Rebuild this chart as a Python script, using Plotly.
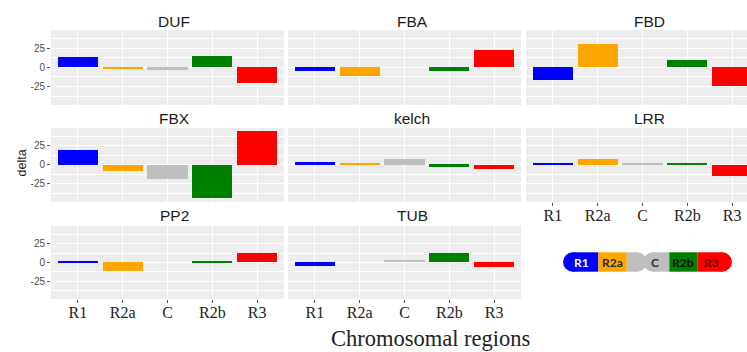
import plotly.graph_objects as go

# ---------------- data ----------------
categories = ["R1", "R2a", "C", "R2b", "R3"]
region_colors = ["#0000FF", "#FFA500", "#BEBEBE", "#008000", "#FF0000"]
families = ["DUF", "FBA", "FBD", "FBX", "kelch", "LRR", "PP2", "TUB"]

delta_DUF = [13, -1.5, -3.5, 15, -21]
delta_FBA = [-5, -11, None, -5, 22]
delta_FBD = [-16.5, 30, None, 9.5, -24]
delta_FBX = [19.5, -7.5, -19, -44, 44]
delta_kelch = [3.5, 2, 7.5, -2.5, -6]
delta_LRR = [2.5, 8, 2, 2.5, -15]
delta_PP2 = [0.5, -11, None, 2, 12.5]
delta_TUB = [-4.5, None, 3.5, 12.5, -6]

y_ticks = [-25, 0, 25]
y_minor = [-37.5, -12.5, 12.5, 37.5]

values = [delta_DUF, delta_FBA, delta_FBD, delta_FBX,
          delta_kelch, delta_LRR, delta_PP2, delta_TUB]

# ---------------- layout helpers ----------------
W, H = 747, 352
col_px = [(51, 284), (288, 521), (526, 747)]
row_px = [(30, 105), (128, 202), (226, 299)]
unit = (284 - 51) / 5.2
y_range = [-49, 48.6]


def px_x(p):
    return p / W


def px_y(p):
    return 1 - p / H


fig = go.Figure()
layout = dict()
title_x = [174, 412, 649]
title_y = [21.5, 118.5, 215.5]
annotations = []

for i, (fam, vals) in enumerate(zip(families, values)):
    r, c = divmod(i, 3)
    n = i + 1
    xa = "x" if n == 1 else f"x{n}"
    ya = "y" if n == 1 else f"y{n}"
    fig.add_trace(go.Bar(
        x=categories, y=vals, marker=dict(color=region_colors, line=dict(width=0)),
        width=0.9, xaxis=xa, yaxis=ya, showlegend=False, name=fam,
    ))
    x0, x1 = col_px[c]
    y0, y1 = row_px[r]
    xr_right = -0.6 + (x1 - x0) / unit
    bottom = (i + 3 >= len(families))
    layout["xaxis" if n == 1 else f"xaxis{n}"] = dict(
        domain=[px_x(x0), px_x(x1)], anchor=ya, type="category",
        categoryorder="array", categoryarray=categories,
        range=[-0.6, xr_right], showgrid=True, gridcolor="white", gridwidth=1,
        showticklabels=bottom, ticks="outside" if bottom else "",
        ticklen=3, tickcolor="#555555", tickwidth=1, ticklabelstandoff=-4,
        tickfont=dict(family="Liberation Serif", size=16, color="#222222"),
        zeroline=False, showline=False, fixedrange=True,
    )
    layout["yaxis" if n == 1 else f"yaxis{n}"] = dict(
        domain=[px_y(y1), px_y(y0)], anchor=xa, range=y_range,
        tickvals=y_ticks, ticktext=[str(v) for v in y_ticks],
        showgrid=True, gridcolor="white", gridwidth=1,
        minor=dict(tickvals=y_minor, showgrid=True, gridcolor="white", gridwidth=0.5, ticks=""),
        showticklabels=(c == 0), ticks="outside" if c == 0 else "",
        ticklen=3, tickcolor="#555555", tickwidth=1,
        tickfont=dict(family="Liberation Sans", size=10, color="#4D4D4D"),
        zeroline=False, showline=False, fixedrange=True,
    )
    annotations.append(dict(
        text=fam, x=px_x(title_x[c]), y=px_y(title_y[r]), xref="paper", yref="paper",
        showarrow=False, xanchor="center", yanchor="middle",
        font=dict(family="Liberation Sans", size=15.5, color="#1A1A1A"),
    ))

annotations.append(dict(
    text="delta", x=px_x(21.5), y=px_y(163), xref="paper", yref="paper",
    showarrow=False, textangle=-90, xanchor="center", yanchor="middle",
    font=dict(family="Liberation Sans", size=12.5, color="#1A1A1A"),
))
annotations.append(dict(
    text="Chromosomal regions", x=px_x(431), y=px_y(338), xref="paper", yref="paper",
    showarrow=False, xanchor="center", yanchor="middle",
    font=dict(family="Liberation Serif", size=22.5, color="#222222"),
))

# ---------------- chromosome legend ----------------
cy0, cy1 = 252.3, 271.7
rad = (cy1 - cy0) / 2
shapes = []


def rect(xa_, xb_, col):
    shapes.append(dict(type="rect", xref="paper", yref="paper",
                       x0=px_x(xa_), x1=px_x(xb_), y0=px_y(cy1), y1=px_y(cy0),
                       fillcolor=col, line=dict(width=0), layer="above"))


def circ(cx, col):
    shapes.append(dict(type="circle", xref="paper", yref="paper",
                       x0=px_x(cx - rad), x1=px_x(cx + rad), y0=px_y(cy1), y1=px_y(cy0),
                       fillcolor=col, line=dict(width=0), layer="above"))


grey = region_colors[2]
# centromere (grey) with pinch
cx1, cx2 = 637.2, 652.8
rect(626.7, cx1, grey)
circ(cx1, grey)
circ(cx2, grey)
rect(cx2, 669.3, grey)
# R1
circ(563 + rad, region_colors[0])
rect(563 + rad, 598.3, region_colors[0])
# R2a
rect(598.3, 626.7, region_colors[1])
# R2b
rect(669.3, 697.7, region_colors[3])
# R3
rect(697.7, 732 - rad, region_colors[4])
circ(732 - rad, region_colors[4])

legend_labels = [("R1", 581.7, "#FFFFFF"), ("R2a", 612, "#2B2B2B"), ("C", 655, "#2B2B2B"),
                 ("R2b", 683, "#111111"), ("R3", 711.7, "#6B0000")]
for txt, lx, lc in legend_labels:
    annotations.append(dict(
        text=f"<b>{txt}</b>", x=px_x(lx), y=px_y(262), xref="paper", yref="paper",
        showarrow=False, xanchor="center", yanchor="middle",
        font=dict(family="Lato", size=12, color=lc),
    ))

fig.update_layout(
    **layout,
    annotations=annotations,
    shapes=shapes,
    width=W, height=H,
    margin=dict(l=0, r=0, t=0, b=0),
    paper_bgcolor="white",
    plot_bgcolor="#EDEDED",
    bargap=0,
)

fig.write_html(
    "out.html",
    config={"displayModeBar": False},
    post_script="document.body.style.margin='0px';document.body.style.overflow='hidden';",
)
